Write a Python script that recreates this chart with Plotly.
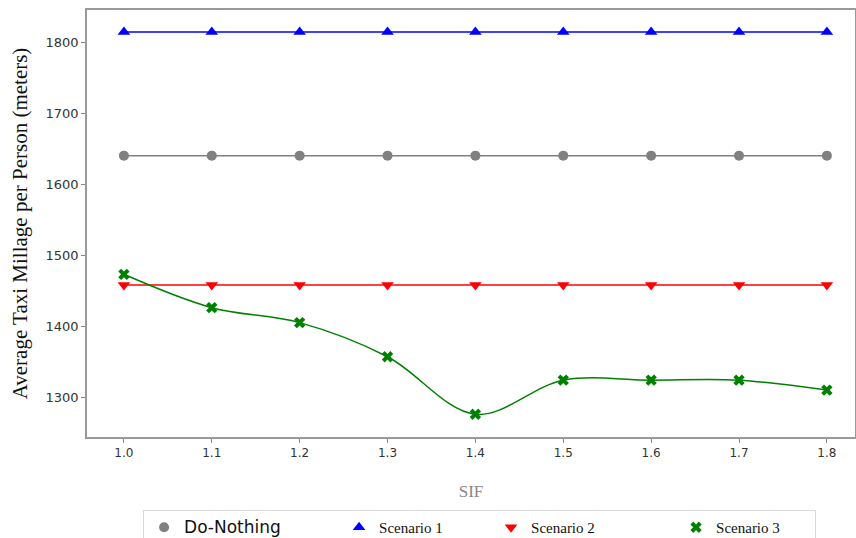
import plotly.graph_objects as go

# SIF values on the x axis
sif = [1.0, 1.1, 1.2, 1.3, 1.4, 1.5, 1.6, 1.7, 1.8]

# Average taxi mileage per person (meters) for each scenario
do_nothing = [1641, 1641, 1641, 1641, 1641, 1641, 1641, 1641, 1641]
scenario_1 = [1815, 1815, 1815, 1815, 1815, 1815, 1815, 1815, 1815]
scenario_2 = [1459, 1459, 1459, 1459, 1459, 1459, 1459, 1459, 1459]
scenario_3 = [1474, 1427, 1406, 1358, 1277, 1325, 1325, 1325, 1311]

x_ticks = [1.0, 1.1, 1.2, 1.3, 1.4, 1.5, 1.6, 1.7, 1.8]
y_ticks = [1300, 1400, 1500, 1600, 1700, 1800]

serif = "Liberation Serif, Times New Roman, serif"
sans = "DejaVu Sans, sans-serif"

series = [
    dict(y=do_nothing, color="#808080", symbol="circle", size=10, shape="linear",
         label="<span style='font-family:DejaVu Sans;font-size:17px'>Do-Nothing</span>", width=150),
    dict(y=scenario_1, color="#0000ff", symbol="triangle-up", size=11, shape="linear",
         label="Scenario 1", width=107),
    dict(y=scenario_2, color="#ff0000", symbol="triangle-down", size=11, shape="linear",
         label="Scenario 2", width=140),
    dict(y=scenario_3, color="#008000", symbol="x", size=10, shape="spline",
         label="Scenario 3", width=94),
]

fig = go.Figure()

for s in series:
    # the plotted line with its markers
    fig.add_trace(go.Scatter(
        x=sif, y=s["y"], mode="lines+markers", showlegend=False,
        line=dict(color=s["color"], width=1.5, shape=s["shape"], smoothing=1.0),
        marker=dict(symbol=s["symbol"], size=s["size"], color=s["color"]),
    ))
    # marker-only legend entry
    fig.add_trace(go.Scatter(
        x=[None], y=[None], mode="markers", name=s["label"],
        marker=dict(symbol=s["symbol"], size=s["size"], color=s["color"]),
        legendwidth=s["width"],
    ))

fig.update_layout(
    width=856, height=538,
    margin=dict(l=87, r=1, t=10, b=101, autoexpand=False),
    paper_bgcolor="white",
    plot_bgcolor="white",
    showlegend=True,
    legend=dict(
        orientation="h",
        x=0.073, xanchor="left",
        y=-0.171, yanchor="top",
        bgcolor="white",
        bordercolor="#d9d9d9", borderwidth=1,
        font=dict(family=serif, size=15, color="#111111"),
        entrywidthmode="pixels",
    ),
    xaxis=dict(
        range=[0.958, 1.832],
        tickmode="array", tickvals=x_ticks,
        ticktext=[f"{v:.1f}" for v in x_ticks],
        ticks="outside", ticklen=4, tickcolor="#888888",
        tickfont=dict(family=sans, size=12, color="#333333"),
        showgrid=False, zeroline=False,
        showline=True, linecolor="#999999", linewidth=1.5, mirror=True,
        title=dict(text="SIF", font=dict(family=serif, size=17, color="#888888"), standoff=26),
    ),
    yaxis=dict(
        range=[1245, 1846],
        tickmode="array", tickvals=y_ticks,
        ticks="outside", ticklen=4, tickcolor="#888888",
        tickfont=dict(family=sans, size=13, color="#333333"),
        showgrid=False, zeroline=False,
        showline=True, linecolor="#999999", linewidth=1.5, mirror=True,
        title=dict(text="Average Taxi Millage per Person (meters)",
                   font=dict(family=serif, size=21, color="#111111"), standoff=12),
    ),
)

fig.write_html("out.html")
